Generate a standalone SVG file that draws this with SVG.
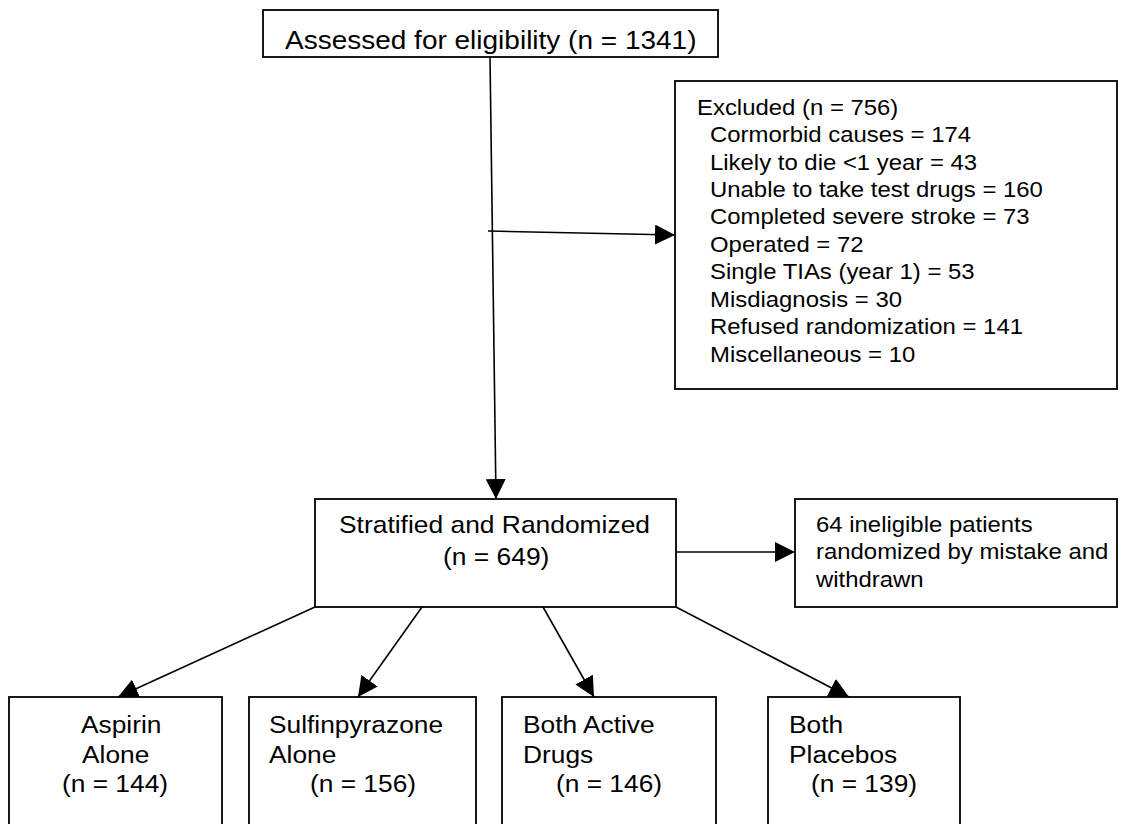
<svg xmlns="http://www.w3.org/2000/svg" width="1148" height="824" viewBox="0 0 1148 824">
<style>
.box{fill:#fff;stroke:#000;stroke-width:1.8}
.ln{fill:none;stroke:#000;stroke-width:1.6;marker-end:url(#ah)}
.t{font-family:"Liberation Sans",Arial,sans-serif;fill:#000}
.big{font-size:25px}
.m{font-size:24px}
.s{font-size:22px}
.b{font-size:23.5px}
</style>
<defs>
<marker id="ah" markerUnits="userSpaceOnUse" markerWidth="20" markerHeight="20" refX="20" refY="10" orient="auto">
<path d="M0,0 L20,10 L0,20 z" fill="#000"/>
</marker>
<clipPath id="topclip"><rect x="263" y="10" width="455" height="46"/></clipPath>
</defs>
<rect width="1148" height="824" fill="#fff"/>
<g id="connectors">
<line class="ln" x1="490" y1="57" x2="496" y2="499"/>
<line class="ln" x1="488" y1="231" x2="675" y2="235"/>
<line class="ln" x1="676" y1="552" x2="795" y2="552"/>
<line class="ln" x1="315" y1="607" x2="118" y2="697"/>
<line class="ln" x1="422" y1="607" x2="358" y2="697"/>
<line class="ln" x1="543" y1="607" x2="594" y2="697"/>
<line class="ln" x1="676" y1="607" x2="849" y2="697"/>
</g>
<g id="assessed">
<rect class="box" x="263" y="10" width="455" height="47"/>
<g clip-path="url(#topclip)">
<text class="t big" transform="matrix(1.12 0 0 1 285 49)">Assessed for eligibility (n = 1341)</text>
</g>
</g>
<g id="excluded">
<rect class="box" x="675" y="81" width="442" height="308"/>
<text class="t s" transform="matrix(1.087 0 0 1 697 115)">Excluded (n = 756)</text>
<text class="t s" transform="matrix(1.087 0 0 1 710 142)">Cormorbid causes = 174</text>
<text class="t s" transform="matrix(1.087 0 0 1 710 170)">Likely to die &lt;1 year = 43</text>
<text class="t s" transform="matrix(1.087 0 0 1 710 197)">Unable to take test drugs = 160</text>
<text class="t s" transform="matrix(1.087 0 0 1 710 224)">Completed severe stroke = 73</text>
<text class="t s" transform="matrix(1.087 0 0 1 710 252)">Operated = 72</text>
<text class="t s" transform="matrix(1.087 0 0 1 710 279)">Single TIAs (year 1) = 53</text>
<text class="t s" transform="matrix(1.087 0 0 1 710 307)">Misdiagnosis = 30</text>
<text class="t s" transform="matrix(1.087 0 0 1 710 334)">Refused randomization = 141</text>
<text class="t s" transform="matrix(1.087 0 0 1 710 362)">Miscellaneous = 10</text>
</g>
<g id="randomized">
<rect class="box" x="315" y="499" width="361" height="108"/>
<text class="t m" transform="matrix(1.1 0 0 1 339 533)">Stratified and Randomized</text>
<text class="t m" transform="matrix(1.1 0 0 1 443 565)">(n = 649)</text>
</g>
<g id="ineligible">
<rect class="box" x="795" y="499" width="322" height="108"/>
<text class="t s" transform="matrix(1.087 0 0 1 816 532)">64 ineligible patients</text>
<text class="t s" transform="matrix(1.087 0 0 1 816 559)">randomized by mistake and</text>
<text class="t s" transform="matrix(1.087 0 0 1 816 587)">withdrawn</text>
</g>
<g id="aspirin">
<rect class="box" x="9" y="697" width="213" height="140"/>
<text class="t b" transform="matrix(1.12 0 0 1 81 733)">Aspirin</text>
<text class="t b" transform="matrix(1.12 0 0 1 82 763)">Alone</text>
<text class="t b" transform="matrix(1.12 0 0 1 62 792)">(n = 144)</text>
</g>
<g id="sulfinpyrazone">
<rect class="box" x="249" y="697" width="227" height="140"/>
<text class="t b" transform="matrix(1.12 0 0 1 269 733)">Sulfinpyrazone</text>
<text class="t b" transform="matrix(1.12 0 0 1 269 763)">Alone</text>
<text class="t b" transform="matrix(1.12 0 0 1 310 792)">(n = 156)</text>
</g>
<g id="both-active">
<rect class="box" x="502" y="697" width="214" height="140"/>
<text class="t b" transform="matrix(1.12 0 0 1 523 733)">Both Active</text>
<text class="t b" transform="matrix(1.12 0 0 1 523 763)">Drugs</text>
<text class="t b" transform="matrix(1.12 0 0 1 556 792)">(n = 146)</text>
</g>
<g id="both-placebos">
<rect class="box" x="768" y="697" width="192" height="140"/>
<text class="t b" transform="matrix(1.12 0 0 1 789 733)">Both</text>
<text class="t b" transform="matrix(1.12 0 0 1 789 763)">Placebos</text>
<text class="t b" transform="matrix(1.12 0 0 1 811 792)">(n = 139)</text>
</g>
</svg>
